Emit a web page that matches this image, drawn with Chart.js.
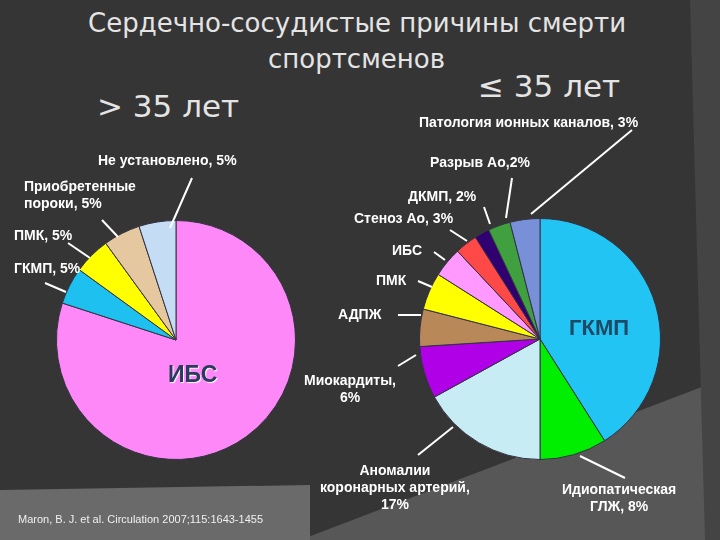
<!DOCTYPE html>
<html><head><meta charset="utf-8">
<script src="https://cdn.jsdelivr.net/npm/chart.js@4"></script>
<style>
body{margin:0;width:720px;height:540px;overflow:hidden;background:#353535;position:relative;font-family:"Liberation Sans",Arial,sans-serif}
#bgdiag{position:absolute;left:0;top:0}
.t{position:absolute;color:#fff;font-weight:bold;font-size:14px;line-height:17px;white-space:nowrap}
.h{position:absolute;color:#e4e4e4;font-family:"DejaVu Sans",sans-serif;font-weight:normal;white-space:nowrap}
.box{position:absolute}
</style></head><body>
<svg id="bgdiag" width="720" height="540">
  <polygon points="300,540 720,380 720,540" fill="#575757"/>
  <polygon points="0,490 310,485 310,540 0,540" fill="#6a6a6a"/>
  <polygon points="690,0 720,0 720,540 705,540" fill="#444"/>
</svg>
<div class="h" style="left:88px;top:8px;font-size:26px">Сердечно-сосудистые причины смерти</div>
<div class="h" style="left:268px;top:44px;font-size:26px">спортсменов</div>
<div class="h" style="left:478px;top:68px;font-size:31px">≤ 35 лет</div>
<div class="h" style="left:97px;top:88px;font-size:31px">&gt; 35 лет</div>

<div class="box" style="left:56px;top:220px;width:240px;height:240px"><canvas id="leftPie"></canvas></div>
<div class="box" style="left:419px;top:218px;width:242px;height:242px"><canvas id="rightPie"></canvas></div>

<svg style="position:absolute;left:0;top:0" width="720" height="540">
 <g stroke="#fff" stroke-width="2">
  <line x1="192" y1="178" x2="170" y2="228"/>
  <line x1="102" y1="220" x2="118" y2="237"/>
  <line x1="68" y1="243" x2="90" y2="258"/>
  <line x1="45" y1="283" x2="66" y2="292"/>
  <line x1="632" y1="130" x2="531" y2="214"/>
  <line x1="512" y1="178" x2="506" y2="218"/>
  <line x1="484" y1="207" x2="490" y2="224"/>
  <line x1="450" y1="230" x2="467" y2="241"/>
  <line x1="434" y1="252" x2="445" y2="260"/>
  <line x1="418" y1="281" x2="432" y2="287"/>
  <line x1="398" y1="315" x2="421" y2="315"/>
  <line x1="398" y1="366" x2="416" y2="355"/>
  <line x1="418" y1="455" x2="453" y2="427"/>
  <line x1="580" y1="456" x2="625" y2="478"/>
 </g>
</svg>

<div class="t" style="left:98px;top:152px">Не установлено, 5%</div>
<div class="t" style="left:24px;top:178px">Приобретенные<br>пороки, 5%</div>
<div class="t" style="left:14px;top:227px">ПМК, 5%</div>
<div class="t" style="left:14px;top:260px">ГКМП, 5%</div>
<div class="t" style="left:419px;top:114px">Патология ионных каналов, 3%</div>
<div class="t" style="left:430px;top:154px">Разрыв Ао,2%</div>
<div class="t" style="left:408px;top:188px">ДКМП, 2%</div>
<div class="t" style="left:354px;top:210px">Стеноз Ао, 3%</div>
<div class="t" style="left:392px;top:242px">ИБС</div>
<div class="t" style="left:376px;top:272px">ПМК</div>
<div class="t" style="left:338px;top:306px">АДПЖ</div>
<div class="t" style="left:304px;top:372px;text-align:center">Миокардиты,<br>6%</div>
<div class="t" style="left:320px;top:462px;text-align:center">Аномалии<br>коронарных артерий,<br>17%</div>
<div class="t" style="left:562px;top:481px;text-align:center">Идиопатическая<br>ГЛЖ, 8%</div>
<div class="t" style="left:168px;top:361px;font-size:23px;line-height:26px;color:#2a3b5e;text-shadow:1px 1px 1px #fff">ИБС</div>
<div class="t" style="left:569px;top:315px;font-size:22px;line-height:26px;color:#1f4a66">ГКМП</div>
<div class="t" style="left:18px;top:511px;font-size:11px;font-weight:normal;color:#f0f0f0">Maron, B. J. et al. Circulation 2007;115:1643-1455</div>

<script>
// > 35 лет
var leftLabels = ['ИБС', 'ГКМП', 'ПМК', 'Приобретенные пороки', 'Не установлено'];
var leftValues = [80, 5, 5, 5, 5];
var leftColors = ['#ff88f8', '#1ec0f0', '#ffff00', '#e6c8a0', '#c4dcf4'];

// ≤ 35 лет
var rightLabels = ['ГКМП', 'Идиопатическая ГЛЖ', 'Аномалии коронарных артерий', 'Миокардиты', 'АДПЖ',
    'ПМК', 'ИБС', 'Стеноз Ао', 'ДКМП', 'Разрыв Ао', 'Патология ионных каналов'];
var rightValues = [41, 9, 17, 7, 5, 5, 4, 3, 2, 3, 4];
var rightColors = ['#22c4f4', '#00ee00', '#c8ecf4', '#b000e8', '#b88858', '#ffff00',
    '#ff99ff', '#ff4848', '#300070', '#40a040', '#7890d8'];

function makePie(id, labels, values, colors) {
    return new Chart(document.getElementById(id).getContext('2d'), {
        type: 'pie',
        data: {
            labels: labels,
            datasets: [{ data: values, backgroundColor: colors, borderColor: '#334', borderWidth: 1 }]
        },
        options: {
            responsive: true,
            maintainAspectRatio: true,
            animation: false,
            layout: { padding: 0 },
            plugins: { legend: { display: false }, tooltip: { enabled: false } }
        }
    });
}
makePie('leftPie', leftLabels, leftValues, leftColors);
makePie('rightPie', rightLabels, rightValues, rightColors);
</script>
</body></html>
